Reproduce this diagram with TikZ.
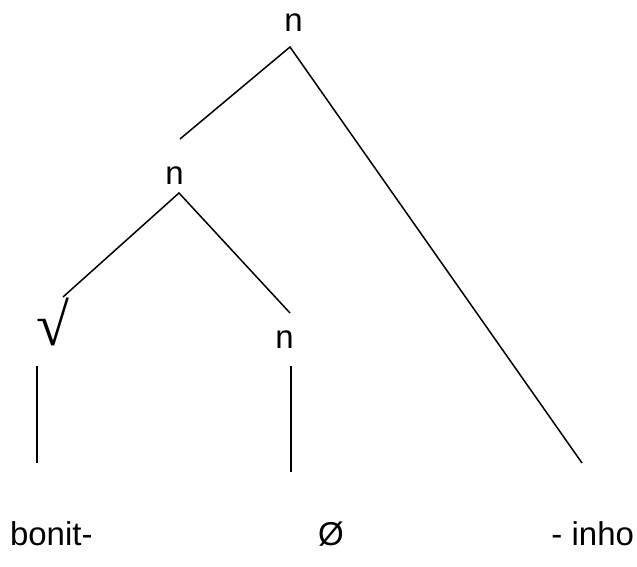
\documentclass[tikz,border=0pt]{standalone}
\usepackage{fontspec}
\setmainfont{Liberation Sans}
\newfontfamily\radfont{Liberation Serif}
\begin{document}
\begin{tikzpicture}[x=1pt,y=1pt,
  lbl/.style={inner sep=0pt,outer sep=0pt,font=\fontsize{33}{40}\selectfont},
  branch/.style={line width=1.5pt,line cap=butt}]
\useasboundingbox (0,0) rectangle (637,567);
% labels
\node[lbl,anchor=base] (ntop) at (293.5,535) {n};
\node[lbl,anchor=base] (nmid) at (174.5,382) {n};
\node[lbl,anchor=base] (nsuf) at (284.5,218) {n};
\node[inner sep=0pt,font=\radfont\fontsize{60}{70}\selectfont] (root) at (52.5,245) {√};
\node[lbl,anchor=base west] (w1) at (10,21) {bonit-};
\node[lbl,anchor=base] (w2) at (331,21) {Ø};
\node[lbl,anchor=base east] (w3) at (634,21) {- inho};
% branch end points
\coordinate (a1) at (290,520);
\coordinate (b1) at (180,428);
\coordinate (c1) at (582,104);
\coordinate (a2) at (179,374);
\coordinate (b2) at (63,270);
\coordinate (c2) at (290,254);
\coordinate (r1) at (37,201);
\coordinate (r2) at (37,104);
\coordinate (s1) at (291,201);
\coordinate (s2) at (291,95);
% branches
\draw[branch] (b1) -- (a1) -- (c1);
\draw[branch] (b2) -- (a2) -- (c2);
\draw[branch] (r1) -- (r2);
\draw[branch] (s1) -- (s2);
\end{tikzpicture}
\end{document}
